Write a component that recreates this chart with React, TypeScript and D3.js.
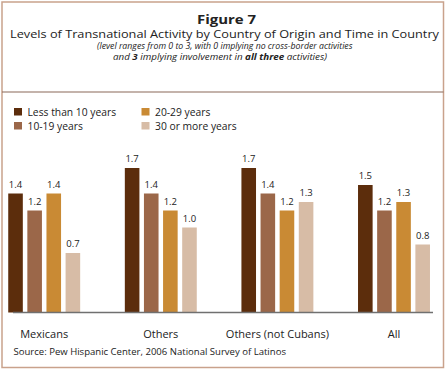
import React from "react";
import * as d3 from "d3";

const categories = ["Mexicans", "Others", "Others (not Cubans)", "All"];
const seriesNames = ["Less than 10 years", "10-19 years", "20-29 years", "30 or more years"];
const lessThan10 = [1.4, 1.7, 1.7, 1.5];
const y10to19 = [1.2, 1.4, 1.4, 1.2];
const y20to29 = [1.4, 1.2, 1.2, 1.3];
const y30plus = [0.7, 1.0, 1.3, 0.8];
const seriesValues = [lessThan10, y10to19, y20to29, y30plus];
const colors = ["#5c2d0c", "#9b6749", "#c98a34", "#d7bca6"];

const W = 446;
const H = 370;
const FONT = "'Open Sans', 'Noto Sans', sans-serif";

export default function App() {
  const x0 = d3
    .scaleBand<string>()
    .domain(categories)
    .range([-14.1, 452.3])
    .paddingInner(0.383)
    .paddingOuter(0.383 / 2);
  const x1 = d3
    .scaleBand<string>()
    .domain(seriesNames)
    .range([0, x0.bandwidth()])
    .paddingInner(0.237);
  const y = d3.scaleLinear().domain([0, 2]).range([312.5, 142.5]);

  const legendItems = [
    { name: seriesNames[0], col: 0, row: 0 },
    { name: seriesNames[1], col: 0, row: 1 },
    { name: seriesNames[2], col: 1, row: 0 },
    { name: seriesNames[3], col: 1, row: 1 },
  ];

  return (
    <div style={{ position: "fixed", left: 0, top: 0 }}>
      <svg width={W} height={H} style={{ display: "block", background: "#fff" }} fontFamily={FONT}>
        <rect x={2} y={2} width={441.5} height={365.5} fill="#fff" stroke="#c9a28c" strokeWidth={1.5} />
        <line x1={2} x2={443.5} y1={92} y2={92} stroke="#8a6858" strokeWidth={1.2} />

        <text x={197} y={23.5} fontWeight="bold" fontSize={12} fill="#222" textLength={59} lengthAdjust="spacingAndGlyphs">
          Figure 7
        </text>
        <text x={10} y={38.3} fontSize={10.8} fill="#222" textLength={429} lengthAdjust="spacingAndGlyphs">
          Levels of Transnational Activity by Country of Origin and Time in Country
        </text>
        <text x={97} y={49.2} fontStyle="italic" fontSize={8.3} fill="#222" textLength={255.5} lengthAdjust="spacingAndGlyphs">
          (level ranges from 0 to 3, with 0 implying no cross-border activities
        </text>
        <text x={113} y={60} fontStyle="italic" fontSize={8.3} fill="#222" textLength={214} lengthAdjust="spacingAndGlyphs">
          and <tspan fontWeight="bold">3</tspan> implying involvement in <tspan fontWeight="bold">all three</tspan> activities)
        </text>

        {legendItems.map((it) => {
          const lx = it.col === 0 ? 14 : 141.5;
          const ly = it.row === 0 ? 108 : 122;
          return (
            <g key={it.name}>
              <rect x={lx} y={ly} width={8} height={7.5} fill={colors[seriesNames.indexOf(it.name)]} />
              <text x={lx + 13.5} y={ly + 7.8} fontSize={10.3} fill="#222">
                {it.name}
              </text>
            </g>
          );
        })}

        {categories.map((c, ci) => (
          <g key={c} transform={`translate(${x0(c)},0)`}>
            {seriesNames.map((s, si) => {
              const v = seriesValues[si][ci];
              return (
                <g key={s}>
                  <rect
                    x={x1(s)}
                    y={y(v)}
                    width={x1.bandwidth()}
                    height={y(0) - y(v)}
                    fill={colors[si]}
                  />
                  <text
                    x={(x1(s) as number) + x1.bandwidth() / 2}
                    y={y(v) - 6}
                    textAnchor="middle"
                    fontSize={9.5}
                    fill="#222"
                  >
                    {v.toFixed(1)}
                  </text>
                </g>
              );
            })}
            <text
              x={x0.bandwidth() / 2}
              y={337.5}
              textAnchor="middle"
              fontSize={11}
              fill="#222"
            >
              {c}
            </text>
          </g>
        ))}

        <line x1={13} x2={433} y1={y(0)} y2={y(0)} stroke="#707070" strokeWidth={1.5} />

        <text x={13.5} y={354.5} fontSize={9.55} fill="#222">
          Source: Pew Hispanic Center, 2006 National Survey of Latinos
        </text>
      </svg>
    </div>
  );
}
